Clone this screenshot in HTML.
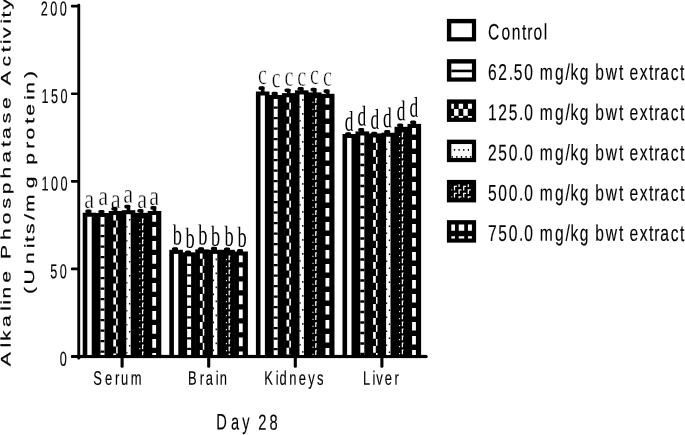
<!DOCTYPE html>
<html><head><meta charset="utf-8"><title>Alkaline Phosphatase Activity - Day 28</title>
<style>
html,body{margin:0;padding:0;background:#fff;width:685px;height:435px;overflow:hidden}
svg text{fill:#000;white-space:pre}
</style></head><body>
<svg width="685" height="435" viewBox="0 0 685 435" style="display:block;position:absolute;left:0;top:0;will-change:transform;filter:grayscale(1)">
<rect x="77.3" y="3.7" width="2.90" height="355.70" rx="1.2" fill="#000"/>
<rect x="77.3" y="354.9" width="348.90" height="3.2" fill="#000"/>
<circle cx="426.2" cy="356.5" r="1.6" fill="#000"/>
<rect x="70.9" y="354.90" width="7.3" height="3.2" rx="1" fill="#000"/>
<rect x="70.9" y="267.57" width="7.3" height="2.7" rx="1" fill="#000"/>
<rect x="70.9" y="180.00" width="7.3" height="2.7" rx="1" fill="#000"/>
<rect x="70.9" y="92.42" width="7.3" height="2.7" rx="1" fill="#000"/>
<rect x="70.9" y="4.85" width="7.3" height="2.7" rx="1" fill="#000"/>
<rect x="120.55" y="356" width="3.1" height="11.8" rx="1.4" fill="#000"/>
<rect x="207.15" y="356" width="3.1" height="11.8" rx="1.4" fill="#000"/>
<rect x="293.75" y="356" width="3.1" height="11.8" rx="1.4" fill="#000"/>
<rect x="380.35" y="356" width="3.1" height="11.8" rx="1.4" fill="#000"/>
<text transform="translate(89.13,208.05) rotate(0.04) scale(0.815,1)" font-family='"Liberation Serif", serif' font-size="27.4" letter-spacing="0.000" text-anchor="middle" stroke="#fff" stroke-width="0.4" paint-order="fill stroke">a</text>
<text transform="translate(103.23,204.95) rotate(0.04) scale(0.815,1)" font-family='"Liberation Serif", serif' font-size="27.4" letter-spacing="0.000" text-anchor="middle" stroke="#fff" stroke-width="0.4" paint-order="fill stroke">a</text>
<text transform="translate(115.73,208.05) rotate(0.04) scale(0.815,1)" font-family='"Liberation Serif", serif' font-size="27.4" letter-spacing="0.000" text-anchor="middle" stroke="#fff" stroke-width="0.4" paint-order="fill stroke">a</text>
<text transform="translate(128.18,202.65) rotate(0.04) scale(0.815,1)" font-family='"Liberation Serif", serif' font-size="27.4" letter-spacing="0.000" text-anchor="middle" stroke="#fff" stroke-width="0.4" paint-order="fill stroke">a</text>
<text transform="translate(142.28,208.05) rotate(0.04) scale(0.815,1)" font-family='"Liberation Serif", serif' font-size="27.4" letter-spacing="0.000" text-anchor="middle" stroke="#fff" stroke-width="0.4" paint-order="fill stroke">a</text>
<text transform="translate(154.13,204.95) rotate(0.04) scale(0.815,1)" font-family='"Liberation Serif", serif' font-size="27.4" letter-spacing="0.000" text-anchor="middle" stroke="#fff" stroke-width="0.4" paint-order="fill stroke">a</text>
<text transform="translate(177.21,244.45) rotate(0.04) scale(0.632,1)" font-family='"Liberation Serif", serif' font-size="29.0" letter-spacing="0.000" text-anchor="middle" >b</text>
<text transform="translate(190.06,247.75) rotate(0.04) scale(0.632,1)" font-family='"Liberation Serif", serif' font-size="29.0" letter-spacing="0.000" text-anchor="middle" >b</text>
<text transform="translate(202.86,244.45) rotate(0.04) scale(0.632,1)" font-family='"Liberation Serif", serif' font-size="29.0" letter-spacing="0.000" text-anchor="middle" >b</text>
<text transform="translate(215.46,245.75) rotate(0.04) scale(0.632,1)" font-family='"Liberation Serif", serif' font-size="29.0" letter-spacing="0.000" text-anchor="middle" >b</text>
<text transform="translate(229.01,245.75) rotate(0.04) scale(0.632,1)" font-family='"Liberation Serif", serif' font-size="29.0" letter-spacing="0.000" text-anchor="middle" >b</text>
<text transform="translate(242.06,246.75) rotate(0.04) scale(0.632,1)" font-family='"Liberation Serif", serif' font-size="29.0" letter-spacing="0.000" text-anchor="middle" >b</text>
<text transform="translate(262.49,84.05) rotate(0.04) scale(0.704,1)" font-family='"Liberation Serif", serif' font-size="28.5" letter-spacing="0.000" text-anchor="middle" stroke="#fff" stroke-width="0.5" paint-order="fill stroke">c</text>
<text transform="translate(276.29,87.25) rotate(0.04) scale(0.704,1)" font-family='"Liberation Serif", serif' font-size="28.5" letter-spacing="0.000" text-anchor="middle" stroke="#fff" stroke-width="0.5" paint-order="fill stroke">c</text>
<text transform="translate(288.94,85.65) rotate(0.04) scale(0.704,1)" font-family='"Liberation Serif", serif' font-size="28.5" letter-spacing="0.000" text-anchor="middle" stroke="#fff" stroke-width="0.5" paint-order="fill stroke">c</text>
<text transform="translate(301.79,85.65) rotate(0.04) scale(0.704,1)" font-family='"Liberation Serif", serif' font-size="28.5" letter-spacing="0.000" text-anchor="middle" stroke="#fff" stroke-width="0.5" paint-order="fill stroke">c</text>
<text transform="translate(314.49,84.05) rotate(0.04) scale(0.704,1)" font-family='"Liberation Serif", serif' font-size="28.5" letter-spacing="0.000" text-anchor="middle" stroke="#fff" stroke-width="0.5" paint-order="fill stroke">c</text>
<text transform="translate(327.34,85.65) rotate(0.04) scale(0.704,1)" font-family='"Liberation Serif", serif' font-size="28.5" letter-spacing="0.000" text-anchor="middle" stroke="#fff" stroke-width="0.5" paint-order="fill stroke">c</text>
<text transform="translate(349.20,130.75) rotate(0.04) scale(0.608,1)" font-family='"Liberation Serif", serif' font-size="28.6" letter-spacing="0.000" text-anchor="middle" >d</text>
<text transform="translate(361.95,125.55) rotate(0.04) scale(0.608,1)" font-family='"Liberation Serif", serif' font-size="28.6" letter-spacing="0.000" text-anchor="middle" >d</text>
<text transform="translate(374.80,128.85) rotate(0.04) scale(0.608,1)" font-family='"Liberation Serif", serif' font-size="28.6" letter-spacing="0.000" text-anchor="middle" >d</text>
<text transform="translate(387.45,127.15) rotate(0.04) scale(0.608,1)" font-family='"Liberation Serif", serif' font-size="28.6" letter-spacing="0.000" text-anchor="middle" >d</text>
<text transform="translate(401.10,120.15) rotate(0.04) scale(0.608,1)" font-family='"Liberation Serif", serif' font-size="28.6" letter-spacing="0.000" text-anchor="middle" >d</text>
<text transform="translate(413.80,116.80) rotate(0.04) scale(0.608,1)" font-family='"Liberation Serif", serif' font-size="28.6" letter-spacing="0.000" text-anchor="middle" >d</text>
<rect x="82.70" y="212.70" width="13.6" height="143.80" fill="#000"/>
<path d="M87.30 216.80H91.70V354.90H87.30Z" fill="#fff"/>
<rect x="87.70" y="209.90" width="3.6" height="4.30" fill="#000"/>
<rect x="85.30" y="209.40" width="6" height="3.6" rx="1.6" fill="#000"/>
<rect x="95.70" y="213.00" width="13.6" height="143.50" fill="#000"/>
<path d="M100.50 217.10H104.50V354.90H100.50Z" fill="#fff"/>
<path d="M100.50 224.40H104.50V226.80H100.50ZM100.50 234.90H104.50V237.30H100.50ZM100.50 245.40H104.50V247.80H100.50ZM100.50 255.90H104.50V258.30H100.50ZM100.50 266.40H104.50V268.80H100.50ZM100.50 276.90H104.50V279.30H100.50ZM100.50 287.40H104.50V289.80H100.50ZM100.50 297.90H104.50V300.30H100.50ZM100.50 308.40H104.50V310.80H100.50ZM100.50 318.90H104.50V321.30H100.50ZM100.50 329.40H104.50V331.80H100.50ZM100.50 339.90H104.50V342.30H100.50ZM100.50 350.40H104.50V352.80H100.50Z" fill="#000"/>
<rect x="100.70" y="210.50" width="3.6" height="4.00" fill="#000"/>
<rect x="98.30" y="210.00" width="6" height="3.6" rx="1.6" fill="#000"/>
<rect x="108.70" y="211.00" width="13.6" height="145.50" fill="#000"/>
<path d="M113.30 215.10H115.97V220.40H113.30ZM116.17 220.60H117.70V227.40H116.17ZM113.30 227.60H115.97V234.40H113.30ZM116.17 234.60H117.70V241.40H116.17ZM113.30 241.60H115.97V248.40H113.30ZM116.17 248.60H117.70V255.40H116.17ZM113.30 255.60H115.97V262.40H113.30ZM116.17 262.60H117.70V269.40H116.17ZM113.30 269.60H115.97V276.40H113.30ZM116.17 276.60H117.70V283.40H116.17ZM113.30 283.60H115.97V290.40H113.30ZM116.17 290.60H117.70V297.40H116.17ZM113.30 297.60H115.97V304.40H113.30ZM116.17 304.60H117.70V311.40H116.17ZM113.30 311.60H115.97V318.40H113.30ZM116.17 318.60H117.70V325.40H116.17ZM113.30 325.60H115.97V332.40H113.30ZM116.17 332.60H117.70V339.40H116.17ZM113.30 339.60H115.97V346.40H113.30ZM116.17 346.60H117.70V353.40H116.17ZM113.30 353.60H115.97V354.90H113.30Z" fill="#fff"/>
<rect x="113.70" y="207.50" width="3.6" height="5.00" fill="#000"/>
<rect x="111.30" y="207.00" width="6" height="3.6" rx="1.6" fill="#000"/>
<rect x="121.70" y="210.20" width="13.6" height="146.30" fill="#000"/>
<path d="M126.30 214.30H130.70V354.90H126.30Z" fill="#fff"/>
<path d="M128.97 219.00H130.27V220.60H128.97ZM126.30 226.00H127.42V227.60H126.30ZM128.97 233.00H130.27V234.60H128.97ZM126.30 240.00H127.42V241.60H126.30ZM128.97 247.00H130.27V248.60H128.97ZM126.30 254.00H127.42V255.60H126.30ZM128.97 261.00H130.27V262.60H128.97ZM126.30 268.00H127.42V269.60H126.30ZM128.97 275.00H130.27V276.60H128.97ZM126.30 282.00H127.42V283.60H126.30ZM128.97 289.00H130.27V290.60H128.97ZM126.30 296.00H127.42V297.60H126.30ZM128.97 303.00H130.27V304.60H128.97ZM126.30 310.00H127.42V311.60H126.30ZM128.97 317.00H130.27V318.60H128.97ZM126.30 324.00H127.42V325.60H126.30ZM128.97 331.00H130.27V332.60H128.97ZM126.30 338.00H127.42V339.60H126.30ZM128.97 345.00H130.27V346.60H128.97ZM126.30 352.00H127.42V353.60H126.30Z" fill="#000"/>
<rect x="126.70" y="205.30" width="3.6" height="6.40" fill="#000"/>
<rect x="124.30" y="204.80" width="6" height="3.6" rx="1.6" fill="#000"/>
<rect x="134.70" y="212.80" width="13.6" height="143.70" fill="#000"/>
<path d="M141.97 218.60H143.22V223.30H141.97ZM141.97 218.60H143.70V219.80H141.97ZM139.30 222.10H140.32V223.30H139.30ZM141.97 225.60H143.22V230.30H141.97ZM141.97 225.60H143.70V226.80H141.97ZM139.30 229.10H140.32V230.30H139.30ZM141.97 232.60H143.22V237.30H141.97ZM141.97 232.60H143.70V233.80H141.97ZM139.30 236.10H140.32V237.30H139.30ZM141.97 239.60H143.22V244.30H141.97ZM141.97 239.60H143.70V240.80H141.97ZM139.30 243.10H140.32V244.30H139.30ZM141.97 246.60H143.22V251.30H141.97ZM141.97 246.60H143.70V247.80H141.97ZM139.30 250.10H140.32V251.30H139.30ZM141.97 253.60H143.22V258.30H141.97ZM141.97 253.60H143.70V254.80H141.97ZM139.30 257.10H140.32V258.30H139.30ZM141.97 260.60H143.22V265.30H141.97ZM141.97 260.60H143.70V261.80H141.97ZM139.30 264.10H140.32V265.30H139.30ZM141.97 267.60H143.22V272.30H141.97ZM141.97 267.60H143.70V268.80H141.97ZM139.30 271.10H140.32V272.30H139.30ZM141.97 274.60H143.22V279.30H141.97ZM141.97 274.60H143.70V275.80H141.97ZM139.30 278.10H140.32V279.30H139.30ZM141.97 281.60H143.22V286.30H141.97ZM141.97 281.60H143.70V282.80H141.97ZM139.30 285.10H140.32V286.30H139.30ZM141.97 288.60H143.22V293.30H141.97ZM141.97 288.60H143.70V289.80H141.97ZM139.30 292.10H140.32V293.30H139.30ZM141.97 295.60H143.22V300.30H141.97ZM141.97 295.60H143.70V296.80H141.97ZM139.30 299.10H140.32V300.30H139.30ZM141.97 302.60H143.22V307.30H141.97ZM141.97 302.60H143.70V303.80H141.97ZM139.30 306.10H140.32V307.30H139.30ZM141.97 309.60H143.22V314.30H141.97ZM141.97 309.60H143.70V310.80H141.97ZM139.30 313.10H140.32V314.30H139.30ZM141.97 316.60H143.22V321.30H141.97ZM141.97 316.60H143.70V317.80H141.97ZM139.30 320.10H140.32V321.30H139.30ZM141.97 323.60H143.22V328.30H141.97ZM141.97 323.60H143.70V324.80H141.97ZM139.30 327.10H140.32V328.30H139.30ZM141.97 330.60H143.22V335.30H141.97ZM141.97 330.60H143.70V331.80H141.97ZM139.30 334.10H140.32V335.30H139.30ZM141.97 337.60H143.22V342.30H141.97ZM141.97 337.60H143.70V338.80H141.97ZM139.30 341.10H140.32V342.30H139.30ZM141.97 344.60H143.22V349.30H141.97ZM141.97 344.60H143.70V345.80H141.97ZM139.30 348.10H140.32V349.30H139.30ZM141.97 351.60H143.22V354.90H141.97ZM141.97 351.60H143.70V352.80H141.97Z" fill="#fff"/>
<rect x="139.70" y="209.50" width="3.6" height="4.80" fill="#000"/>
<rect x="137.30" y="209.00" width="6" height="3.6" rx="1.6" fill="#000"/>
<rect x="147.70" y="211.00" width="13.6" height="145.50" fill="#000"/>
<path d="M152.30 215.10H156.10V221.70H152.30ZM152.30 227.10H156.10V235.70H152.30ZM152.30 241.10H156.10V249.70H152.30ZM152.30 255.10H156.10V263.70H152.30ZM152.30 269.10H156.10V277.70H152.30ZM152.30 283.10H156.10V291.70H152.30ZM152.30 297.10H156.10V305.70H152.30ZM152.30 311.10H156.10V319.70H152.30ZM152.30 325.10H156.10V333.70H152.30ZM152.30 339.10H156.10V347.70H152.30ZM152.30 353.10H156.10V354.90H152.30Z" fill="#fff"/>
<rect x="152.70" y="206.60" width="3.6" height="5.90" fill="#000"/>
<rect x="150.30" y="206.10" width="6" height="3.6" rx="1.6" fill="#000"/>
<rect x="169.30" y="249.80" width="13.6" height="106.70" fill="#000"/>
<path d="M173.90 253.90H178.30V354.90H173.90Z" fill="#fff"/>
<rect x="174.30" y="247.70" width="3.6" height="3.60" fill="#000"/>
<rect x="171.90" y="247.20" width="6" height="3.6" rx="1.6" fill="#000"/>
<rect x="182.30" y="252.30" width="13.6" height="104.20" fill="#000"/>
<path d="M187.10 256.40H191.10V354.90H187.10Z" fill="#fff"/>
<path d="M187.10 263.70H191.10V266.10H187.10ZM187.10 274.20H191.10V276.60H187.10ZM187.10 284.70H191.10V287.10H187.10ZM187.10 295.20H191.10V297.60H187.10ZM187.10 305.70H191.10V308.10H187.10ZM187.10 316.20H191.10V318.60H187.10ZM187.10 326.70H191.10V329.10H187.10ZM187.10 337.20H191.10V339.60H187.10ZM187.10 347.70H191.10V350.10H187.10Z" fill="#000"/>
<rect x="187.30" y="251.10" width="3.6" height="2.70" fill="#000"/>
<rect x="184.90" y="250.60" width="6" height="3.6" rx="1.6" fill="#000"/>
<rect x="195.30" y="249.40" width="13.6" height="107.10" fill="#000"/>
<path d="M199.90 253.50H202.57V258.80H199.90ZM202.77 259.00H204.30V265.80H202.77ZM199.90 266.00H202.57V272.80H199.90ZM202.77 273.00H204.30V279.80H202.77ZM199.90 280.00H202.57V286.80H199.90ZM202.77 287.00H204.30V293.80H202.77ZM199.90 294.00H202.57V300.80H199.90ZM202.77 301.00H204.30V307.80H202.77ZM199.90 308.00H202.57V314.80H199.90ZM202.77 315.00H204.30V321.80H202.77ZM199.90 322.00H202.57V328.80H199.90ZM202.77 329.00H204.30V335.80H202.77ZM199.90 336.00H202.57V342.80H199.90ZM202.77 343.00H204.30V349.80H202.77ZM199.90 350.00H202.57V354.90H199.90Z" fill="#fff"/>
<rect x="200.30" y="247.70" width="3.6" height="3.20" fill="#000"/>
<rect x="197.90" y="247.20" width="6" height="3.6" rx="1.6" fill="#000"/>
<rect x="208.30" y="249.80" width="13.6" height="106.70" fill="#000"/>
<path d="M212.90 253.90H217.30V354.90H212.90Z" fill="#fff"/>
<path d="M215.57 258.60H216.87V260.20H215.57ZM212.90 265.60H214.02V267.20H212.90ZM215.57 272.60H216.87V274.20H215.57ZM212.90 279.60H214.02V281.20H212.90ZM215.57 286.60H216.87V288.20H215.57ZM212.90 293.60H214.02V295.20H212.90ZM215.57 300.60H216.87V302.20H215.57ZM212.90 307.60H214.02V309.20H212.90ZM215.57 314.60H216.87V316.20H215.57ZM212.90 321.60H214.02V323.20H212.90ZM215.57 328.60H216.87V330.20H215.57ZM212.90 335.60H214.02V337.20H212.90ZM215.57 342.60H216.87V344.20H215.57ZM212.90 349.60H214.02V351.20H212.90Z" fill="#000"/>
<rect x="213.30" y="247.30" width="3.6" height="4.00" fill="#000"/>
<rect x="210.90" y="246.80" width="6" height="3.6" rx="1.6" fill="#000"/>
<rect x="221.30" y="249.80" width="13.6" height="106.70" fill="#000"/>
<path d="M228.57 255.60H229.82V260.30H228.57ZM228.57 255.60H230.30V256.80H228.57ZM225.90 259.10H226.92V260.30H225.90ZM228.57 262.60H229.82V267.30H228.57ZM228.57 262.60H230.30V263.80H228.57ZM225.90 266.10H226.92V267.30H225.90ZM228.57 269.60H229.82V274.30H228.57ZM228.57 269.60H230.30V270.80H228.57ZM225.90 273.10H226.92V274.30H225.90ZM228.57 276.60H229.82V281.30H228.57ZM228.57 276.60H230.30V277.80H228.57ZM225.90 280.10H226.92V281.30H225.90ZM228.57 283.60H229.82V288.30H228.57ZM228.57 283.60H230.30V284.80H228.57ZM225.90 287.10H226.92V288.30H225.90ZM228.57 290.60H229.82V295.30H228.57ZM228.57 290.60H230.30V291.80H228.57ZM225.90 294.10H226.92V295.30H225.90ZM228.57 297.60H229.82V302.30H228.57ZM228.57 297.60H230.30V298.80H228.57ZM225.90 301.10H226.92V302.30H225.90ZM228.57 304.60H229.82V309.30H228.57ZM228.57 304.60H230.30V305.80H228.57ZM225.90 308.10H226.92V309.30H225.90ZM228.57 311.60H229.82V316.30H228.57ZM228.57 311.60H230.30V312.80H228.57ZM225.90 315.10H226.92V316.30H225.90ZM228.57 318.60H229.82V323.30H228.57ZM228.57 318.60H230.30V319.80H228.57ZM225.90 322.10H226.92V323.30H225.90ZM228.57 325.60H229.82V330.30H228.57ZM228.57 325.60H230.30V326.80H228.57ZM225.90 329.10H226.92V330.30H225.90ZM228.57 332.60H229.82V337.30H228.57ZM228.57 332.60H230.30V333.80H228.57ZM225.90 336.10H226.92V337.30H225.90ZM228.57 339.60H229.82V344.30H228.57ZM228.57 339.60H230.30V340.80H228.57ZM225.90 343.10H226.92V344.30H225.90ZM228.57 346.60H229.82V351.30H228.57ZM228.57 346.60H230.30V347.80H228.57ZM225.90 350.10H226.92V351.30H225.90ZM228.57 353.60H229.82V354.90H228.57ZM228.57 353.60H230.30V354.80H228.57Z" fill="#fff"/>
<rect x="226.30" y="247.90" width="3.6" height="3.40" fill="#000"/>
<rect x="223.90" y="247.40" width="6" height="3.6" rx="1.6" fill="#000"/>
<rect x="234.30" y="251.50" width="13.6" height="105.00" fill="#000"/>
<path d="M238.90 255.60H242.70V262.20H238.90ZM238.90 267.60H242.70V276.20H238.90ZM238.90 281.60H242.70V290.20H238.90ZM238.90 295.60H242.70V304.20H238.90ZM238.90 309.60H242.70V318.20H238.90ZM238.90 323.60H242.70V332.20H238.90ZM238.90 337.60H242.70V346.20H238.90ZM238.90 351.60H242.70V354.90H238.90Z" fill="#fff"/>
<rect x="239.30" y="249.50" width="3.6" height="3.50" fill="#000"/>
<rect x="236.90" y="249.00" width="6" height="3.6" rx="1.6" fill="#000"/>
<rect x="255.90" y="91.50" width="13.6" height="265.00" fill="#000"/>
<path d="M260.50 95.60H264.90V354.90H260.50Z" fill="#fff"/>
<rect x="260.90" y="86.80" width="3.6" height="6.20" fill="#000"/>
<rect x="258.50" y="86.30" width="6" height="3.6" rx="1.6" fill="#000"/>
<rect x="268.90" y="95.00" width="13.6" height="261.50" fill="#000"/>
<path d="M273.70 99.10H277.70V354.90H273.70Z" fill="#fff"/>
<path d="M273.70 106.40H277.70V108.80H273.70ZM273.70 116.90H277.70V119.30H273.70ZM273.70 127.40H277.70V129.80H273.70ZM273.70 137.90H277.70V140.30H273.70ZM273.70 148.40H277.70V150.80H273.70ZM273.70 158.90H277.70V161.30H273.70ZM273.70 169.40H277.70V171.80H273.70ZM273.70 179.90H277.70V182.30H273.70ZM273.70 190.40H277.70V192.80H273.70ZM273.70 200.90H277.70V203.30H273.70ZM273.70 211.40H277.70V213.80H273.70ZM273.70 221.90H277.70V224.30H273.70ZM273.70 232.40H277.70V234.80H273.70ZM273.70 242.90H277.70V245.30H273.70ZM273.70 253.40H277.70V255.80H273.70ZM273.70 263.90H277.70V266.30H273.70ZM273.70 274.40H277.70V276.80H273.70ZM273.70 284.90H277.70V287.30H273.70ZM273.70 295.40H277.70V297.80H273.70ZM273.70 305.90H277.70V308.30H273.70ZM273.70 316.40H277.70V318.80H273.70ZM273.70 326.90H277.70V329.30H273.70ZM273.70 337.40H277.70V339.80H273.70ZM273.70 347.90H277.70V350.30H273.70Z" fill="#000"/>
<rect x="273.90" y="92.30" width="3.6" height="4.20" fill="#000"/>
<rect x="271.50" y="91.80" width="6" height="3.6" rx="1.6" fill="#000"/>
<rect x="281.90" y="93.10" width="13.6" height="263.40" fill="#000"/>
<path d="M286.50 97.20H289.17V102.50H286.50ZM289.37 102.70H290.90V109.50H289.37ZM286.50 109.70H289.17V116.50H286.50ZM289.37 116.70H290.90V123.50H289.37ZM286.50 123.70H289.17V130.50H286.50ZM289.37 130.70H290.90V137.50H289.37ZM286.50 137.70H289.17V144.50H286.50ZM289.37 144.70H290.90V151.50H289.37ZM286.50 151.70H289.17V158.50H286.50ZM289.37 158.70H290.90V165.50H289.37ZM286.50 165.70H289.17V172.50H286.50ZM289.37 172.70H290.90V179.50H289.37ZM286.50 179.70H289.17V186.50H286.50ZM289.37 186.70H290.90V193.50H289.37ZM286.50 193.70H289.17V200.50H286.50ZM289.37 200.70H290.90V207.50H289.37ZM286.50 207.70H289.17V214.50H286.50ZM289.37 214.70H290.90V221.50H289.37ZM286.50 221.70H289.17V228.50H286.50ZM289.37 228.70H290.90V235.50H289.37ZM286.50 235.70H289.17V242.50H286.50ZM289.37 242.70H290.90V249.50H289.37ZM286.50 249.70H289.17V256.50H286.50ZM289.37 256.70H290.90V263.50H289.37ZM286.50 263.70H289.17V270.50H286.50ZM289.37 270.70H290.90V277.50H289.37ZM286.50 277.70H289.17V284.50H286.50ZM289.37 284.70H290.90V291.50H289.37ZM286.50 291.70H289.17V298.50H286.50ZM289.37 298.70H290.90V305.50H289.37ZM286.50 305.70H289.17V312.50H286.50ZM289.37 312.70H290.90V319.50H289.37ZM286.50 319.70H289.17V326.50H286.50ZM289.37 326.70H290.90V333.50H289.37ZM286.50 333.70H289.17V340.50H286.50ZM289.37 340.70H290.90V347.50H289.37ZM286.50 347.70H289.17V354.50H286.50ZM289.37 354.70H290.90V354.90H289.37Z" fill="#fff"/>
<rect x="286.90" y="89.00" width="3.6" height="5.60" fill="#000"/>
<rect x="284.50" y="88.50" width="6" height="3.6" rx="1.6" fill="#000"/>
<rect x="294.90" y="90.30" width="13.6" height="266.20" fill="#000"/>
<path d="M299.50 94.40H303.90V354.90H299.50Z" fill="#fff"/>
<path d="M302.17 99.10H303.47V100.70H302.17ZM299.50 106.10H300.62V107.70H299.50ZM302.17 113.10H303.47V114.70H302.17ZM299.50 120.10H300.62V121.70H299.50ZM302.17 127.10H303.47V128.70H302.17ZM299.50 134.10H300.62V135.70H299.50ZM302.17 141.10H303.47V142.70H302.17ZM299.50 148.10H300.62V149.70H299.50ZM302.17 155.10H303.47V156.70H302.17ZM299.50 162.10H300.62V163.70H299.50ZM302.17 169.10H303.47V170.70H302.17ZM299.50 176.10H300.62V177.70H299.50ZM302.17 183.10H303.47V184.70H302.17ZM299.50 190.10H300.62V191.70H299.50ZM302.17 197.10H303.47V198.70H302.17ZM299.50 204.10H300.62V205.70H299.50ZM302.17 211.10H303.47V212.70H302.17ZM299.50 218.10H300.62V219.70H299.50ZM302.17 225.10H303.47V226.70H302.17ZM299.50 232.10H300.62V233.70H299.50ZM302.17 239.10H303.47V240.70H302.17ZM299.50 246.10H300.62V247.70H299.50ZM302.17 253.10H303.47V254.70H302.17ZM299.50 260.10H300.62V261.70H299.50ZM302.17 267.10H303.47V268.70H302.17ZM299.50 274.10H300.62V275.70H299.50ZM302.17 281.10H303.47V282.70H302.17ZM299.50 288.10H300.62V289.70H299.50ZM302.17 295.10H303.47V296.70H302.17ZM299.50 302.10H300.62V303.70H299.50ZM302.17 309.10H303.47V310.70H302.17ZM299.50 316.10H300.62V317.70H299.50ZM302.17 323.10H303.47V324.70H302.17ZM299.50 330.10H300.62V331.70H299.50ZM302.17 337.10H303.47V338.70H302.17ZM299.50 344.10H300.62V345.70H299.50ZM302.17 351.10H303.47V352.70H302.17Z" fill="#000"/>
<rect x="299.90" y="87.50" width="3.6" height="4.30" fill="#000"/>
<rect x="297.50" y="87.00" width="6" height="3.6" rx="1.6" fill="#000"/>
<rect x="307.90" y="92.40" width="13.6" height="264.10" fill="#000"/>
<path d="M315.17 98.20H316.42V102.90H315.17ZM315.17 98.20H316.90V99.40H315.17ZM312.50 101.70H313.52V102.90H312.50ZM315.17 105.20H316.42V109.90H315.17ZM315.17 105.20H316.90V106.40H315.17ZM312.50 108.70H313.52V109.90H312.50ZM315.17 112.20H316.42V116.90H315.17ZM315.17 112.20H316.90V113.40H315.17ZM312.50 115.70H313.52V116.90H312.50ZM315.17 119.20H316.42V123.90H315.17ZM315.17 119.20H316.90V120.40H315.17ZM312.50 122.70H313.52V123.90H312.50ZM315.17 126.20H316.42V130.90H315.17ZM315.17 126.20H316.90V127.40H315.17ZM312.50 129.70H313.52V130.90H312.50ZM315.17 133.20H316.42V137.90H315.17ZM315.17 133.20H316.90V134.40H315.17ZM312.50 136.70H313.52V137.90H312.50ZM315.17 140.20H316.42V144.90H315.17ZM315.17 140.20H316.90V141.40H315.17ZM312.50 143.70H313.52V144.90H312.50ZM315.17 147.20H316.42V151.90H315.17ZM315.17 147.20H316.90V148.40H315.17ZM312.50 150.70H313.52V151.90H312.50ZM315.17 154.20H316.42V158.90H315.17ZM315.17 154.20H316.90V155.40H315.17ZM312.50 157.70H313.52V158.90H312.50ZM315.17 161.20H316.42V165.90H315.17ZM315.17 161.20H316.90V162.40H315.17ZM312.50 164.70H313.52V165.90H312.50ZM315.17 168.20H316.42V172.90H315.17ZM315.17 168.20H316.90V169.40H315.17ZM312.50 171.70H313.52V172.90H312.50ZM315.17 175.20H316.42V179.90H315.17ZM315.17 175.20H316.90V176.40H315.17ZM312.50 178.70H313.52V179.90H312.50ZM315.17 182.20H316.42V186.90H315.17ZM315.17 182.20H316.90V183.40H315.17ZM312.50 185.70H313.52V186.90H312.50ZM315.17 189.20H316.42V193.90H315.17ZM315.17 189.20H316.90V190.40H315.17ZM312.50 192.70H313.52V193.90H312.50ZM315.17 196.20H316.42V200.90H315.17ZM315.17 196.20H316.90V197.40H315.17ZM312.50 199.70H313.52V200.90H312.50ZM315.17 203.20H316.42V207.90H315.17ZM315.17 203.20H316.90V204.40H315.17ZM312.50 206.70H313.52V207.90H312.50ZM315.17 210.20H316.42V214.90H315.17ZM315.17 210.20H316.90V211.40H315.17ZM312.50 213.70H313.52V214.90H312.50ZM315.17 217.20H316.42V221.90H315.17ZM315.17 217.20H316.90V218.40H315.17ZM312.50 220.70H313.52V221.90H312.50ZM315.17 224.20H316.42V228.90H315.17ZM315.17 224.20H316.90V225.40H315.17ZM312.50 227.70H313.52V228.90H312.50ZM315.17 231.20H316.42V235.90H315.17ZM315.17 231.20H316.90V232.40H315.17ZM312.50 234.70H313.52V235.90H312.50ZM315.17 238.20H316.42V242.90H315.17ZM315.17 238.20H316.90V239.40H315.17ZM312.50 241.70H313.52V242.90H312.50ZM315.17 245.20H316.42V249.90H315.17ZM315.17 245.20H316.90V246.40H315.17ZM312.50 248.70H313.52V249.90H312.50ZM315.17 252.20H316.42V256.90H315.17ZM315.17 252.20H316.90V253.40H315.17ZM312.50 255.70H313.52V256.90H312.50ZM315.17 259.20H316.42V263.90H315.17ZM315.17 259.20H316.90V260.40H315.17ZM312.50 262.70H313.52V263.90H312.50ZM315.17 266.20H316.42V270.90H315.17ZM315.17 266.20H316.90V267.40H315.17ZM312.50 269.70H313.52V270.90H312.50ZM315.17 273.20H316.42V277.90H315.17ZM315.17 273.20H316.90V274.40H315.17ZM312.50 276.70H313.52V277.90H312.50ZM315.17 280.20H316.42V284.90H315.17ZM315.17 280.20H316.90V281.40H315.17ZM312.50 283.70H313.52V284.90H312.50ZM315.17 287.20H316.42V291.90H315.17ZM315.17 287.20H316.90V288.40H315.17ZM312.50 290.70H313.52V291.90H312.50ZM315.17 294.20H316.42V298.90H315.17ZM315.17 294.20H316.90V295.40H315.17ZM312.50 297.70H313.52V298.90H312.50ZM315.17 301.20H316.42V305.90H315.17ZM315.17 301.20H316.90V302.40H315.17ZM312.50 304.70H313.52V305.90H312.50ZM315.17 308.20H316.42V312.90H315.17ZM315.17 308.20H316.90V309.40H315.17ZM312.50 311.70H313.52V312.90H312.50ZM315.17 315.20H316.42V319.90H315.17ZM315.17 315.20H316.90V316.40H315.17ZM312.50 318.70H313.52V319.90H312.50ZM315.17 322.20H316.42V326.90H315.17ZM315.17 322.20H316.90V323.40H315.17ZM312.50 325.70H313.52V326.90H312.50ZM315.17 329.20H316.42V333.90H315.17ZM315.17 329.20H316.90V330.40H315.17ZM312.50 332.70H313.52V333.90H312.50ZM315.17 336.20H316.42V340.90H315.17ZM315.17 336.20H316.90V337.40H315.17ZM312.50 339.70H313.52V340.90H312.50ZM315.17 343.20H316.42V347.90H315.17ZM315.17 343.20H316.90V344.40H315.17ZM312.50 346.70H313.52V347.90H312.50ZM315.17 350.20H316.42V354.90H315.17ZM315.17 350.20H316.90V351.40H315.17ZM312.50 353.70H313.52V354.90H312.50Z" fill="#fff"/>
<rect x="312.90" y="88.30" width="3.6" height="5.60" fill="#000"/>
<rect x="310.50" y="87.80" width="6" height="3.6" rx="1.6" fill="#000"/>
<rect x="320.90" y="93.80" width="13.6" height="262.70" fill="#000"/>
<path d="M325.50 97.90H329.30V104.50H325.50ZM325.50 109.90H329.30V118.50H325.50ZM325.50 123.90H329.30V132.50H325.50ZM325.50 137.90H329.30V146.50H325.50ZM325.50 151.90H329.30V160.50H325.50ZM325.50 165.90H329.30V174.50H325.50ZM325.50 179.90H329.30V188.50H325.50ZM325.50 193.90H329.30V202.50H325.50ZM325.50 207.90H329.30V216.50H325.50ZM325.50 221.90H329.30V230.50H325.50ZM325.50 235.90H329.30V244.50H325.50ZM325.50 249.90H329.30V258.50H325.50ZM325.50 263.90H329.30V272.50H325.50ZM325.50 277.90H329.30V286.50H325.50ZM325.50 291.90H329.30V300.50H325.50ZM325.50 305.90H329.30V314.50H325.50ZM325.50 319.90H329.30V328.50H325.50ZM325.50 333.90H329.30V342.50H325.50ZM325.50 347.90H329.30V354.90H325.50Z" fill="#fff"/>
<rect x="325.90" y="89.80" width="3.6" height="5.50" fill="#000"/>
<rect x="323.50" y="89.30" width="6" height="3.6" rx="1.6" fill="#000"/>
<rect x="342.50" y="134.00" width="13.6" height="222.50" fill="#000"/>
<path d="M347.10 138.10H351.50V354.90H347.10Z" fill="#fff"/>
<rect x="347.50" y="132.80" width="3.6" height="2.70" fill="#000"/>
<rect x="345.10" y="132.30" width="6" height="3.6" rx="1.6" fill="#000"/>
<rect x="355.50" y="131.40" width="13.6" height="225.10" fill="#000"/>
<path d="M360.30 135.50H364.30V354.90H360.30Z" fill="#fff"/>
<path d="M360.30 142.80H364.30V145.20H360.30ZM360.30 153.30H364.30V155.70H360.30ZM360.30 163.80H364.30V166.20H360.30ZM360.30 174.30H364.30V176.70H360.30ZM360.30 184.80H364.30V187.20H360.30ZM360.30 195.30H364.30V197.70H360.30ZM360.30 205.80H364.30V208.20H360.30ZM360.30 216.30H364.30V218.70H360.30ZM360.30 226.80H364.30V229.20H360.30ZM360.30 237.30H364.30V239.70H360.30ZM360.30 247.80H364.30V250.20H360.30ZM360.30 258.30H364.30V260.70H360.30ZM360.30 268.80H364.30V271.20H360.30ZM360.30 279.30H364.30V281.70H360.30ZM360.30 289.80H364.30V292.20H360.30ZM360.30 300.30H364.30V302.70H360.30ZM360.30 310.80H364.30V313.20H360.30ZM360.30 321.30H364.30V323.70H360.30ZM360.30 331.80H364.30V334.20H360.30ZM360.30 342.30H364.30V344.70H360.30ZM360.30 352.80H364.30V354.90H360.30Z" fill="#000"/>
<rect x="360.50" y="128.60" width="3.6" height="4.30" fill="#000"/>
<rect x="358.10" y="128.10" width="6" height="3.6" rx="1.6" fill="#000"/>
<rect x="368.50" y="133.40" width="13.6" height="223.10" fill="#000"/>
<path d="M373.10 137.50H375.77V142.80H373.10ZM375.97 143.00H377.50V149.80H375.97ZM373.10 150.00H375.77V156.80H373.10ZM375.97 157.00H377.50V163.80H375.97ZM373.10 164.00H375.77V170.80H373.10ZM375.97 171.00H377.50V177.80H375.97ZM373.10 178.00H375.77V184.80H373.10ZM375.97 185.00H377.50V191.80H375.97ZM373.10 192.00H375.77V198.80H373.10ZM375.97 199.00H377.50V205.80H375.97ZM373.10 206.00H375.77V212.80H373.10ZM375.97 213.00H377.50V219.80H375.97ZM373.10 220.00H375.77V226.80H373.10ZM375.97 227.00H377.50V233.80H375.97ZM373.10 234.00H375.77V240.80H373.10ZM375.97 241.00H377.50V247.80H375.97ZM373.10 248.00H375.77V254.80H373.10ZM375.97 255.00H377.50V261.80H375.97ZM373.10 262.00H375.77V268.80H373.10ZM375.97 269.00H377.50V275.80H375.97ZM373.10 276.00H375.77V282.80H373.10ZM375.97 283.00H377.50V289.80H375.97ZM373.10 290.00H375.77V296.80H373.10ZM375.97 297.00H377.50V303.80H375.97ZM373.10 304.00H375.77V310.80H373.10ZM375.97 311.00H377.50V317.80H375.97ZM373.10 318.00H375.77V324.80H373.10ZM375.97 325.00H377.50V331.80H375.97ZM373.10 332.00H375.77V338.80H373.10ZM375.97 339.00H377.50V345.80H375.97ZM373.10 346.00H375.77V352.80H373.10ZM375.97 353.00H377.50V354.90H375.97Z" fill="#fff"/>
<rect x="373.50" y="132.30" width="3.6" height="2.60" fill="#000"/>
<rect x="371.10" y="131.80" width="6" height="3.6" rx="1.6" fill="#000"/>
<rect x="381.50" y="132.70" width="13.6" height="223.80" fill="#000"/>
<path d="M386.10 136.80H390.50V354.90H386.10Z" fill="#fff"/>
<path d="M388.77 141.50H390.07V143.10H388.77ZM386.10 148.50H387.22V150.10H386.10ZM388.77 155.50H390.07V157.10H388.77ZM386.10 162.50H387.22V164.10H386.10ZM388.77 169.50H390.07V171.10H388.77ZM386.10 176.50H387.22V178.10H386.10ZM388.77 183.50H390.07V185.10H388.77ZM386.10 190.50H387.22V192.10H386.10ZM388.77 197.50H390.07V199.10H388.77ZM386.10 204.50H387.22V206.10H386.10ZM388.77 211.50H390.07V213.10H388.77ZM386.10 218.50H387.22V220.10H386.10ZM388.77 225.50H390.07V227.10H388.77ZM386.10 232.50H387.22V234.10H386.10ZM388.77 239.50H390.07V241.10H388.77ZM386.10 246.50H387.22V248.10H386.10ZM388.77 253.50H390.07V255.10H388.77ZM386.10 260.50H387.22V262.10H386.10ZM388.77 267.50H390.07V269.10H388.77ZM386.10 274.50H387.22V276.10H386.10ZM388.77 281.50H390.07V283.10H388.77ZM386.10 288.50H387.22V290.10H386.10ZM388.77 295.50H390.07V297.10H388.77ZM386.10 302.50H387.22V304.10H386.10ZM388.77 309.50H390.07V311.10H388.77ZM386.10 316.50H387.22V318.10H386.10ZM388.77 323.50H390.07V325.10H388.77ZM386.10 330.50H387.22V332.10H386.10ZM388.77 337.50H390.07V339.10H388.77ZM386.10 344.50H387.22V346.10H386.10ZM388.77 351.50H390.07V353.10H388.77Z" fill="#000"/>
<rect x="386.50" y="130.50" width="3.6" height="3.70" fill="#000"/>
<rect x="384.10" y="130.00" width="6" height="3.6" rx="1.6" fill="#000"/>
<rect x="394.50" y="126.80" width="13.6" height="229.70" fill="#000"/>
<path d="M401.77 132.60H403.02V137.30H401.77ZM401.77 132.60H403.50V133.80H401.77ZM399.10 136.10H400.12V137.30H399.10ZM401.77 139.60H403.02V144.30H401.77ZM401.77 139.60H403.50V140.80H401.77ZM399.10 143.10H400.12V144.30H399.10ZM401.77 146.60H403.02V151.30H401.77ZM401.77 146.60H403.50V147.80H401.77ZM399.10 150.10H400.12V151.30H399.10ZM401.77 153.60H403.02V158.30H401.77ZM401.77 153.60H403.50V154.80H401.77ZM399.10 157.10H400.12V158.30H399.10ZM401.77 160.60H403.02V165.30H401.77ZM401.77 160.60H403.50V161.80H401.77ZM399.10 164.10H400.12V165.30H399.10ZM401.77 167.60H403.02V172.30H401.77ZM401.77 167.60H403.50V168.80H401.77ZM399.10 171.10H400.12V172.30H399.10ZM401.77 174.60H403.02V179.30H401.77ZM401.77 174.60H403.50V175.80H401.77ZM399.10 178.10H400.12V179.30H399.10ZM401.77 181.60H403.02V186.30H401.77ZM401.77 181.60H403.50V182.80H401.77ZM399.10 185.10H400.12V186.30H399.10ZM401.77 188.60H403.02V193.30H401.77ZM401.77 188.60H403.50V189.80H401.77ZM399.10 192.10H400.12V193.30H399.10ZM401.77 195.60H403.02V200.30H401.77ZM401.77 195.60H403.50V196.80H401.77ZM399.10 199.10H400.12V200.30H399.10ZM401.77 202.60H403.02V207.30H401.77ZM401.77 202.60H403.50V203.80H401.77ZM399.10 206.10H400.12V207.30H399.10ZM401.77 209.60H403.02V214.30H401.77ZM401.77 209.60H403.50V210.80H401.77ZM399.10 213.10H400.12V214.30H399.10ZM401.77 216.60H403.02V221.30H401.77ZM401.77 216.60H403.50V217.80H401.77ZM399.10 220.10H400.12V221.30H399.10ZM401.77 223.60H403.02V228.30H401.77ZM401.77 223.60H403.50V224.80H401.77ZM399.10 227.10H400.12V228.30H399.10ZM401.77 230.60H403.02V235.30H401.77ZM401.77 230.60H403.50V231.80H401.77ZM399.10 234.10H400.12V235.30H399.10ZM401.77 237.60H403.02V242.30H401.77ZM401.77 237.60H403.50V238.80H401.77ZM399.10 241.10H400.12V242.30H399.10ZM401.77 244.60H403.02V249.30H401.77ZM401.77 244.60H403.50V245.80H401.77ZM399.10 248.10H400.12V249.30H399.10ZM401.77 251.60H403.02V256.30H401.77ZM401.77 251.60H403.50V252.80H401.77ZM399.10 255.10H400.12V256.30H399.10ZM401.77 258.60H403.02V263.30H401.77ZM401.77 258.60H403.50V259.80H401.77ZM399.10 262.10H400.12V263.30H399.10ZM401.77 265.60H403.02V270.30H401.77ZM401.77 265.60H403.50V266.80H401.77ZM399.10 269.10H400.12V270.30H399.10ZM401.77 272.60H403.02V277.30H401.77ZM401.77 272.60H403.50V273.80H401.77ZM399.10 276.10H400.12V277.30H399.10ZM401.77 279.60H403.02V284.30H401.77ZM401.77 279.60H403.50V280.80H401.77ZM399.10 283.10H400.12V284.30H399.10ZM401.77 286.60H403.02V291.30H401.77ZM401.77 286.60H403.50V287.80H401.77ZM399.10 290.10H400.12V291.30H399.10ZM401.77 293.60H403.02V298.30H401.77ZM401.77 293.60H403.50V294.80H401.77ZM399.10 297.10H400.12V298.30H399.10ZM401.77 300.60H403.02V305.30H401.77ZM401.77 300.60H403.50V301.80H401.77ZM399.10 304.10H400.12V305.30H399.10ZM401.77 307.60H403.02V312.30H401.77ZM401.77 307.60H403.50V308.80H401.77ZM399.10 311.10H400.12V312.30H399.10ZM401.77 314.60H403.02V319.30H401.77ZM401.77 314.60H403.50V315.80H401.77ZM399.10 318.10H400.12V319.30H399.10ZM401.77 321.60H403.02V326.30H401.77ZM401.77 321.60H403.50V322.80H401.77ZM399.10 325.10H400.12V326.30H399.10ZM401.77 328.60H403.02V333.30H401.77ZM401.77 328.60H403.50V329.80H401.77ZM399.10 332.10H400.12V333.30H399.10ZM401.77 335.60H403.02V340.30H401.77ZM401.77 335.60H403.50V336.80H401.77ZM399.10 339.10H400.12V340.30H399.10ZM401.77 342.60H403.02V347.30H401.77ZM401.77 342.60H403.50V343.80H401.77ZM399.10 346.10H400.12V347.30H399.10ZM401.77 349.60H403.02V354.30H401.77ZM401.77 349.60H403.50V350.80H401.77ZM399.10 353.10H400.12V354.30H399.10Z" fill="#fff"/>
<rect x="399.50" y="124.00" width="3.6" height="4.30" fill="#000"/>
<rect x="397.10" y="123.50" width="6" height="3.6" rx="1.6" fill="#000"/>
<rect x="407.50" y="123.90" width="13.6" height="232.60" fill="#000"/>
<path d="M412.10 128.00H415.90V134.60H412.10ZM412.10 140.00H415.90V148.60H412.10ZM412.10 154.00H415.90V162.60H412.10ZM412.10 168.00H415.90V176.60H412.10ZM412.10 182.00H415.90V190.60H412.10ZM412.10 196.00H415.90V204.60H412.10ZM412.10 210.00H415.90V218.60H412.10ZM412.10 224.00H415.90V232.60H412.10ZM412.10 238.00H415.90V246.60H412.10ZM412.10 252.00H415.90V260.60H412.10ZM412.10 266.00H415.90V274.60H412.10ZM412.10 280.00H415.90V288.60H412.10ZM412.10 294.00H415.90V302.60H412.10ZM412.10 308.00H415.90V316.60H412.10ZM412.10 322.00H415.90V330.60H412.10ZM412.10 336.00H415.90V344.60H412.10ZM412.10 350.00H415.90V354.90H412.10Z" fill="#fff"/>
<rect x="412.50" y="121.00" width="3.6" height="4.40" fill="#000"/>
<rect x="410.10" y="120.50" width="6" height="3.6" rx="1.6" fill="#000"/>
<text transform="translate(59.85,365.75) rotate(0.04) scale(0.645,1.03)" font-family='"Liberation Sans", sans-serif' font-size="19.6" stroke="#000" stroke-width="0.15" x="0.00" y="0">0</text>
<text transform="translate(50.35,278.18) rotate(0.04) scale(0.645,1.03)" font-family='"Liberation Sans", sans-serif' font-size="19.6" stroke="#000" stroke-width="0.15" x="0.00 14.74" y="0">50</text>
<text transform="translate(41.40,190.60) rotate(0.04) scale(0.645,1.03)" font-family='"Liberation Sans", sans-serif' font-size="19.6" stroke="#000" stroke-width="0.15" x="0.00 14.74 29.49" y="0">100</text>
<text transform="translate(41.40,103.02) rotate(0.04) scale(0.645,1.03)" font-family='"Liberation Sans", sans-serif' font-size="19.6" stroke="#000" stroke-width="0.15" x="0.00 14.74 29.49" y="0">150</text>
<text transform="translate(40.85,15.45) rotate(0.04) scale(0.645,1.03)" font-family='"Liberation Sans", sans-serif' font-size="19.6" stroke="#000" stroke-width="0.15" x="0.00 14.74 29.49" y="0">200</text>
<text transform="translate(93.20,384.80) rotate(0.04) scale(0.66,1)" font-family='"Liberation Sans", sans-serif' font-size="19.6" stroke="#000" stroke-width="0.15" x="0.00 17.99 32.99 41.97 56.97" y="0">Serum</text>
<text transform="translate(187.88,384.80) rotate(0.04) scale(0.66,1)" font-family='"Liberation Sans", sans-serif' font-size="19.6" stroke="#000" stroke-width="0.15" x="0.00 18.07 27.09 42.16 48.18" y="0">Brain</text>
<text transform="translate(264.27,384.80) rotate(0.04) scale(0.66,1)" font-family='"Liberation Sans", sans-serif' font-size="19.6" stroke="#000" stroke-width="0.15" x="0.00 17.42 23.23 37.75 52.28 66.81 79.87" y="0">Kidneys</text>
<text transform="translate(362.90,384.80) rotate(0.04) scale(0.66,1)" font-family='"Liberation Sans", sans-serif' font-size="19.6" stroke="#000" stroke-width="0.15" x="0.00 14.49 20.27 33.29 47.78" y="0">Liver</text>
<text transform="translate(216.30,429.60) rotate(0.04) scale(0.655,1)" font-family='"Liberation Sans", sans-serif' font-size="22.4" stroke="#000" stroke-width="0.15" x="0.00 22.44 39.72" y="0">Day</text>
<text transform="translate(216.30,429.60) rotate(0.04) scale(0.655,0.975)" font-family='"Liberation Sans", sans-serif' font-size="22.4" stroke="#000" stroke-width="0.15" x="63.88 81.16" y="0">28</text>
<text transform="translate(10.40,366.35) rotate(-89.96) scale(1,0.66)" font-family='"Liberation Sans", sans-serif' font-size="21" stroke="#000" stroke-width="0.3" x="0.00 18.94 25.25 39.45 55.25 61.56 67.87 83.66 99.46 107.35 126.29 142.08 157.88 172.08 187.87 203.67 219.46 227.35 243.15 257.35 273.14 281.03 299.98 314.18 322.07 328.38 342.58 348.89 356.78" y="0">Alkaline Phosphatase Activity</text>
<text transform="translate(34.10,293.90) rotate(-89.96) scale(1,0.66)" font-family='"Liberation Sans", sans-serif' font-size="21" stroke="#000" stroke-width="0.3" x="0.00 9.45 29.94 45.71 52.02 59.90 74.08 81.97 105.60 121.38 129.26 145.04 154.48 170.26 178.14 193.92 200.23 216.00" y="0">(Units/mg protein)</text>
<rect x="446.9" y="18.90" width="29.2" height="22.5" fill="#000"/>
<path d="M451.30 23.30H471.90V37.20H451.30Z" fill="#fff"/>
<text transform="translate(488.00,39.50) rotate(0.04) scale(0.7,1)" font-family='"Liberation Sans", sans-serif' font-size="22.3" stroke="#000" stroke-width="0.15" x="0.00 19.16 33.91 48.67 56.04 64.87 79.63" y="0">Control</text>
<rect x="446.9" y="59.15" width="29.2" height="22.5" fill="#000"/>
<path d="M451.30 63.55H471.90V77.45H451.30Z" fill="#fff"/>
<rect x="451.30" y="69.65" width="20.60" height="2.6" fill="#000"/>
<text transform="translate(488.00,79.75) rotate(0.04) scale(0.7,1)" font-family='"Liberation Sans", sans-serif' font-size="22.3" stroke="#000" stroke-width="0.15" x="29.51 73.76 95.86 110.61 117.98 131.24 153.37 168.12 187.28 202.02 216.78 230.04 237.41 246.24 261.00 274.26" y="0">.mg/kgbwtextract</text>
<text transform="translate(488.00,79.90) rotate(0.04) scale(0.7,1.03)" font-family='"Liberation Sans", sans-serif' font-size="22.3" stroke="#000" stroke-width="0.15" x="0.00 14.75 36.88 51.63" y="0">6250</text>
<rect x="446.9" y="99.40" width="29.2" height="22.5" fill="#000"/>
<path d="M451.30 103.80H453.87V108.80H451.30ZM458.69 103.80H463.11V108.80H458.69ZM467.93 103.80H471.90V108.80H467.93ZM454.07 109.00H458.49V115.80H454.07ZM463.31 109.00H467.73V115.80H463.31ZM451.30 116.00H453.87V117.70H451.30ZM458.69 116.00H463.11V117.70H458.69ZM467.93 116.00H471.90V117.70H467.93Z" fill="#fff"/>
<text transform="translate(488.00,120.00) rotate(0.04) scale(0.7,1)" font-family='"Liberation Sans", sans-serif' font-size="22.3" stroke="#000" stroke-width="0.15" x="44.26 73.76 95.86 110.61 117.98 131.24 153.37 168.12 187.28 202.02 216.78 230.04 237.41 246.24 261.00 274.26" y="0">.mg/kgbwtextract</text>
<text transform="translate(488.00,120.15) rotate(0.04) scale(0.7,1.03)" font-family='"Liberation Sans", sans-serif' font-size="22.3" stroke="#000" stroke-width="0.15" x="0.00 14.75 29.51 51.63" y="0">1250</text>
<rect x="446.9" y="139.65" width="29.2" height="22.5" fill="#000"/>
<path d="M451.30 144.05H471.90V157.95H451.30Z" fill="#fff"/>
<path d="M453.87 149.05H455.17V150.65H453.87ZM458.49 149.05H459.79V150.65H458.49ZM463.11 149.05H464.41V150.65H463.11ZM467.73 149.05H469.03V150.65H467.73ZM451.57 156.05H452.87V157.65H451.57ZM456.19 156.05H457.49V157.65H456.19ZM460.81 156.05H462.11V157.65H460.81ZM465.43 156.05H466.73V157.65H465.43ZM470.05 156.05H471.35V157.65H470.05Z" fill="#000"/>
<text transform="translate(488.00,160.25) rotate(0.04) scale(0.7,1)" font-family='"Liberation Sans", sans-serif' font-size="22.3" stroke="#000" stroke-width="0.15" x="44.26 73.76 95.86 110.61 117.98 131.24 153.37 168.12 187.28 202.02 216.78 230.04 237.41 246.24 261.00 274.26" y="0">.mg/kgbwtextract</text>
<text transform="translate(488.00,160.40) rotate(0.04) scale(0.7,1.03)" font-family='"Liberation Sans", sans-serif' font-size="22.3" stroke="#000" stroke-width="0.15" x="0.00 14.75 29.51 51.63" y="0">2500</text>
<rect x="446.9" y="179.90" width="29.2" height="22.5" fill="#000"/>
<path d="M458.46 184.30H459.71V186.90H458.46ZM467.70 184.30H468.95V186.90H467.70ZM453.87 185.70H455.12V190.40H453.87ZM453.87 185.70H456.87V186.90H453.87ZM463.11 185.70H464.36V190.40H463.11ZM463.11 185.70H466.11V186.90H463.11ZM451.30 189.20H452.22V190.40H451.30ZM458.46 189.20H459.71V193.90H458.46ZM458.46 189.20H461.46V190.40H458.46ZM467.70 189.20H468.95V193.90H467.70ZM467.70 189.20H470.70V190.40H467.70ZM453.87 192.70H455.12V197.40H453.87ZM453.87 192.70H456.87V193.90H453.87ZM463.11 192.70H464.36V197.40H463.11ZM463.11 192.70H466.11V193.90H463.11ZM451.30 196.20H452.22V197.40H451.30ZM458.46 196.20H459.71V198.20H458.46ZM458.46 196.20H461.46V197.40H458.46ZM467.70 196.20H468.95V198.20H467.70ZM467.70 196.20H470.70V197.40H467.70Z" fill="#fff"/>
<text transform="translate(488.00,200.50) rotate(0.04) scale(0.7,1)" font-family='"Liberation Sans", sans-serif' font-size="22.3" stroke="#000" stroke-width="0.15" x="44.26 73.76 95.86 110.61 117.98 131.24 153.37 168.12 187.28 202.02 216.78 230.04 237.41 246.24 261.00 274.26" y="0">.mg/kgbwtextract</text>
<text transform="translate(488.00,200.65) rotate(0.04) scale(0.7,1.03)" font-family='"Liberation Sans", sans-serif' font-size="22.3" stroke="#000" stroke-width="0.15" x="0.00 14.75 29.51 51.63" y="0">5000</text>
<rect x="446.9" y="220.15" width="29.2" height="22.5" fill="#000"/>
<path d="M451.30 224.55H455.00V230.85H451.30ZM458.74 224.55H464.24V230.85H458.74ZM467.98 224.55H471.90V230.85H467.98ZM451.30 236.25H455.00V238.45H451.30ZM458.74 236.25H464.24V238.45H458.74ZM467.98 236.25H471.90V238.45H467.98Z" fill="#fff"/>
<text transform="translate(488.00,240.75) rotate(0.04) scale(0.7,1)" font-family='"Liberation Sans", sans-serif' font-size="22.3" stroke="#000" stroke-width="0.15" x="44.26 73.76 95.86 110.61 117.98 131.24 153.37 168.12 187.28 202.02 216.78 230.04 237.41 246.24 261.00 274.26" y="0">.mg/kgbwtextract</text>
<text transform="translate(488.00,240.90) rotate(0.04) scale(0.7,1.03)" font-family='"Liberation Sans", sans-serif' font-size="22.3" stroke="#000" stroke-width="0.15" x="0.00 14.75 29.51 51.63" y="0">7500</text>
</svg>
</body></html>
